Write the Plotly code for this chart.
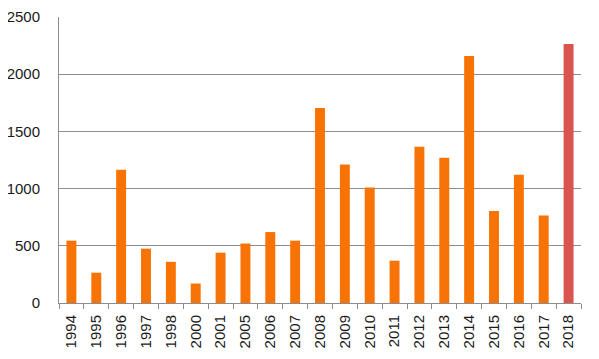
import plotly.graph_objects as go

years = ["1994", "1995", "1996", "1997", "1998", "2000", "2001", "2005", "2006", "2007",
         "2008", "2009", "2010", "2011", "2012", "2013", "2014", "2015", "2016", "2017", "2018"]
values = [545, 265, 1165, 475, 360, 170, 440, 520, 620, 545,
          1705, 1210, 1010, 370, 1365, 1270, 2160, 805, 1120, 765, 2265]
y_ticks = [0, 500, 1000, 1500, 2000, 2500]

orange = "#F87306"
red = "#D9534F"
colors = [red if y == "2018" else orange for y in years]

fig = go.Figure(go.Bar(x=years, y=values, marker=dict(color=colors, line=dict(width=0)),
                       width=0.4))

fig.update_layout(
    width=599, height=359,
    margin=dict(l=51, r=26, t=9, b=64),
    paper_bgcolor="white", plot_bgcolor="white",
    font=dict(family="Liberation Sans, Arial, sans-serif", size=15, color="#1a1a1a"),
    showlegend=False,
)
fig.update_xaxes(type="category", tickangle=-90, showline=True, linecolor="#8c8c8c",
                 linewidth=1, ticks="outside", tickson="boundaries", ticklen=5,
                 tickcolor="#8c8c8c", showgrid=False, ticklabelstandoff=5,
                 automargin=False)
fig.update_yaxes(range=[0, 2500], tickvals=y_ticks, showgrid=True, gridcolor="#8c8c8c",
                 gridwidth=1, showline=True, linecolor="#8c8c8c", linewidth=1,
                 zeroline=False, ticks="", ticklabelstandoff=15, automargin=False)

fig.write_html("out.html")
